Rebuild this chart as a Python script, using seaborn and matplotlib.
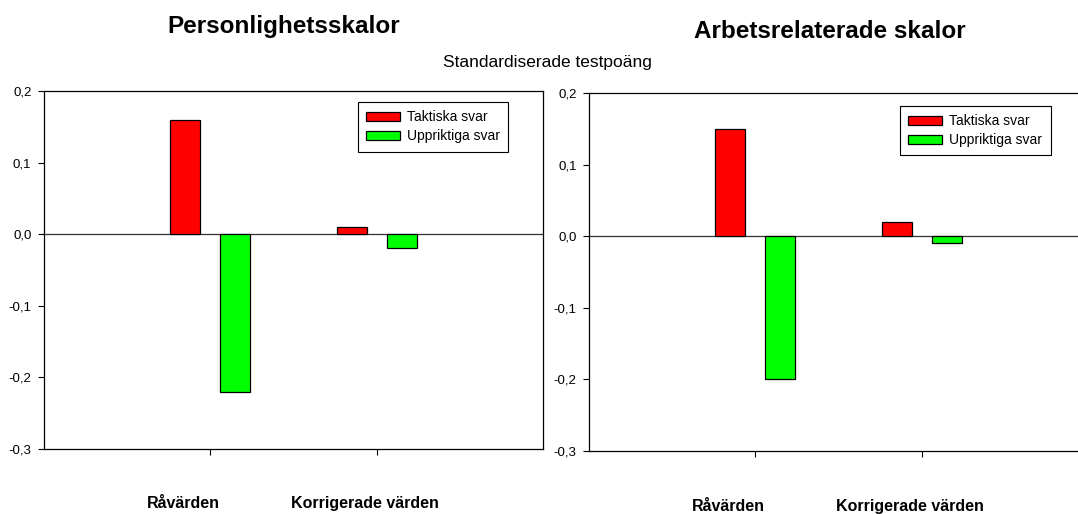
import matplotlib
matplotlib.use("Agg")
import pandas as pd
import matplotlib.pyplot as plt
import seaborn as sns
from matplotlib.patches import Patch
from matplotlib.ticker import FuncFormatter

categories = ["Råvärden", "Korrigerade värden"]
series = ["Taktiska svar", "Uppriktiga svar"]
colors = ["#ff0000", "#00ff00"]

personlighet_taktiska = [0.16, 0.01]
personlighet_uppriktiga = [-0.22, -0.02]
arbete_taktiska = [0.15, 0.02]
arbete_uppriktiga = [-0.20, -0.01]

panel_titles = ["Personlighetsskalor", "Arbetsrelaterade skalor"]
y_label = "Standardiserade testpoäng"
y_ticks = [0.2, 0.1, 0.0, -0.1, -0.2, -0.3]


def make_frame(taktiska, uppriktiga):
    rows = []
    for cat, a, b in zip(categories, taktiska, uppriktiga):
        rows.append({"kategori": cat, "serie": series[0], "varde": a})
        rows.append({"kategori": cat, "serie": series[1], "varde": b})
    return pd.DataFrame(rows)


sns.set_style("ticks")
plt.rcParams["font.family"] = ["Liberation Sans", "DejaVu Sans"]
for key in ["text.color", "axes.labelcolor", "xtick.color", "ytick.color", "axes.edgecolor"]:
    plt.rcParams[key] = "black"

fig = plt.figure(figsize=(10.78, 5.14), dpi=100)
ax_left = fig.add_axes([0.0408, 0.1265, 0.4629, 0.6965])
ax_right = fig.add_axes([0.5464, 0.1226, 0.4629, 0.6965])

frames = [make_frame(personlighet_taktiska, personlighet_uppriktiga),
          make_frame(arbete_taktiska, arbete_uppriktiga)]

# layout of the category labels and legends (axes / category units)
label_offsets = [-0.16, -0.07]
label_y = [-0.151, -0.156]
legend_anchor = [(0.629, 0.969), (0.623, 0.964)]

for i, (ax, df) in enumerate(zip([ax_left, ax_right], frames)):
    sns.barplot(data=df, x="kategori", y="varde", hue="serie", order=categories,
                hue_order=series, palette=colors, saturation=1, width=0.6, gap=0.4,
                edgecolor="black", linewidth=0.9, legend=False, ax=ax)
    ax.axhline(0, color="#333333", lw=0.9, zorder=0)
    ax.set_xlim(-1, 2)
    ax.set_ylim(-0.3, 0.2)
    ax.set_yticks(y_ticks)
    ax.yaxis.set_major_formatter(FuncFormatter(lambda v, p: f"{v:.1f}".replace(".", ",")))
    ax.set_xticks(range(len(categories)))
    ax.set_xticklabels([])
    ax.set_xlabel("")
    ax.set_ylabel("")
    ax.tick_params(axis="both", direction="out", length=4, width=0.8,
                   labelsize=9.5, pad=5, color="black")
    for s in ax.spines.values():
        s.set_visible(True)
        s.set_linewidth(0.9)
        s.set_color("black")
    for j, cat in enumerate(categories):
        ax.text(j + label_offsets[j], label_y[i], cat, transform=ax.get_xaxis_transform(),
                ha="center", va="center", fontsize=11.5, fontweight="bold")
    handles = [Patch(facecolor=c, edgecolor="black", linewidth=0.9, label=s)
               for c, s in zip(colors, series)]
    leg = ax.legend(handles=handles, loc="upper left", bbox_to_anchor=legend_anchor[i],
                    fontsize=10, frameon=True, fancybox=False, framealpha=1,
                    edgecolor="black", handlelength=2.4, handleheight=0.6,
                    labelspacing=0.35, borderpad=0.6, borderaxespad=0,
                    handletextpad=0.55)
    leg.get_frame().set_linewidth(0.8)

fig.text(284 / 1078, 1 - 27 / 514, panel_titles[0], ha="center", va="center",
         fontsize=17.5, fontweight="bold")
fig.text(830 / 1078, 1 - 31 / 514, panel_titles[1], ha="center", va="center",
         fontsize=17.5, fontweight="bold")
fig.text(547 / 1078, 1 - 62 / 514, y_label, ha="center", va="center", fontsize=12.5)

fig.savefig("out.png", dpi=100)
